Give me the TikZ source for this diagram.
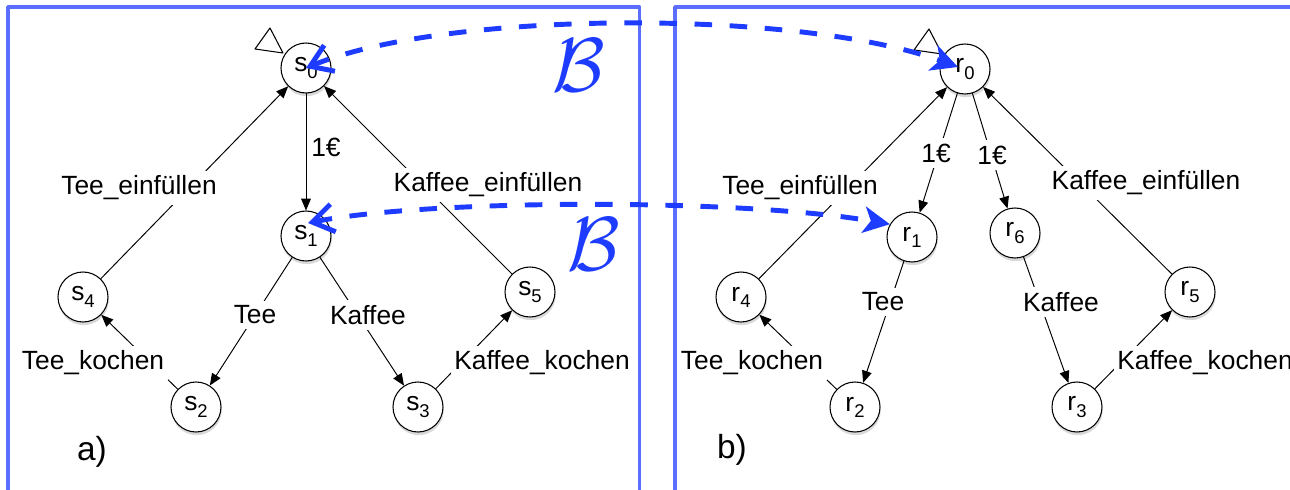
\documentclass[tikz,border=0pt]{standalone}
\usepackage{fontspec}
\setmainfont{Liberation Sans}
\usepackage{tikz}
\usetikzlibrary{arrows.meta,shadows}
\definecolor{frameblue}{HTML}{5C6EFF}
\definecolor{bisimblue}{HTML}{1E3CFF}
\newcommand{\stlabel}[2]{#1\raisebox{-3.5pt}{\fontsize{10.5}{12}\selectfont #2}}
\tikzset{
    every picture/.style={line cap=round,line join=round},
    state/.style={draw=black,circle,fill=white,line width=0.6pt,
      minimum size=10mm,inner sep=0pt,
      drop shadow={shadow xshift=0.4pt,shadow yshift=-1.8pt,opacity=0.3}},
    trans/.style={-{Triangle[length=6.8pt,width=5.6pt]},draw=black,
      line width=0.55pt},
    actlabel/.style={fill=white,inner xsep=2pt,inner ysep=3pt},
    panel/.style={draw=frameblue,line width=2.2pt,line cap=butt},
    panellabel/.style={font=\fontsize{19}{22}\selectfont},
    startmark/.style={draw=black,fill=white,line width=0.6pt},
    bisimarrow/.style={draw=bisimblue,line width=2.8pt,line cap=butt,
      dash pattern=on 10pt off 10pt,
      {Straight Barb[length=12pt,width=16pt]}-{Stealth[length=15pt,width=15pt,inset=4pt]}},
    bisimlabel/.style={text=bisimblue,font=\Huge,scale=1.75,transform shape}
}
\begin{document}
\begin{tikzpicture}[font=\fontsize{15}{17}\selectfont]
  \useasboundingbox (0,0) rectangle (25.8,9.78);
  \draw[panel] (0.16,-0.2) |- (12.79,9.64) -- (12.79,-0.2);
  \draw[panel] (13.5,-0.2) |- (26,9.64);
  \foreach \l/\i/\x/\y in {s/0/6.12/8.42,s/1/6.12/5.06,s/4/1.66/3.84,s/5/10.60/3.94,
      s/2/3.92/1.64,s/3/8.36/1.64,r/0/19.30/8.40,r/1/18.24/5.04,r/6/20.30/5.12,
      r/4/14.82/3.84,r/5/23.80/3.94,r/2/17.10/1.64,r/3/21.54/1.64}
    \node[state] (\l\i) at (\x,\y) {\stlabel{\l}{\i}};
  \foreach \n in {s0,r0}
    \draw[startmark] ([shift={(-0.72,0.8)}]\n.center) -- ++(-0.3,-0.42) -- ++(0.56,-0.08) -- cycle;
  \foreach \a/\b in {s4/s0,s5/s0,s0/s1,s1/s2,s1/s3,s2/s4,s3/s5,
      r4/r0,r5/r0,r0/r1,r0/r6,r1/r2,r6/r3,r2/r4,r3/r5}
    \draw[trans] (\a) -- (\b);
  \foreach \n/\x/\y/\t in {la1/6.52/6.84/1€,la2/2.78/6.02/Tee\_einfüllen,
      la3/9.76/6.08/Kaffee\_einfüllen,la4/5.10/3.48/Tee,la5/7.36/3.48/Kaffee,
      la6/1.86/2.52/Tee\_kochen,la7/10.84/2.52/Kaffee\_kochen,
      lb1/18.72/6.72/1€,lb2/19.84/6.68/1€,lb3/16.00/6.02/Tee\_einfüllen,
      lb4/22.92/6.12/Kaffee\_einfüllen,lb5/17.66/3.74/Tee,lb6/21.22/3.74/Kaffee,
      lb7/15.04/2.52/Tee\_kochen,lb8/24.10/2.52/Kaffee\_kochen}
    \node[actlabel] (\n) at (\x,\y) {\t};
  \node[panellabel] (pa) at (1.84,0.74) {a)};
  \node[panellabel] (pb) at (14.64,0.78) {b)};
  \node[bisimlabel] (bis0) at (11.58,8.48) {$\mathcal{B}$};
  \node[bisimlabel] (bis1) at (11.88,4.90) {$\mathcal{B}$};
  \draw[bisimarrow] (s0.center) .. controls +(2.8,1.16) and +(-3.2,1.16) .. ([shift={(-0.14,0.04)}]r0.center);
  \draw[bisimarrow] ([shift={(0.04,0.26)}]s1.center) .. controls +(2.4,0.48) and +(-3.0,0.52) .. (r1.150);
\end{tikzpicture}
\end{document}
